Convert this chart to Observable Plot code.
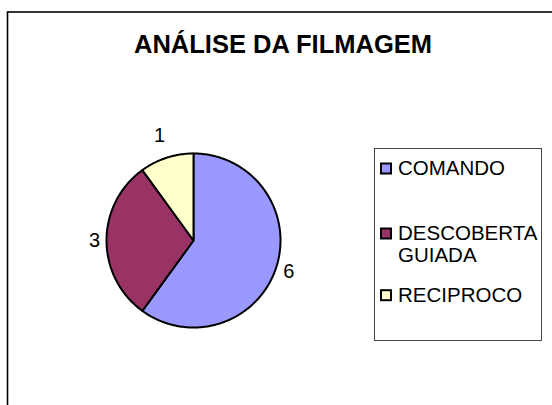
<!DOCTYPE html>
<html><head><meta charset="utf-8">
<script src="https://cdn.jsdelivr.net/npm/d3@7"></script>
<script src="https://cdn.jsdelivr.net/npm/@observablehq/plot@0.6"></script>
<style>
body{margin:0;background:#fff;}
#wrap{position:relative;width:552px;height:405px;overflow:hidden;font-family:"Liberation Sans",Arial,sans-serif;background:#fff;}
#wrap svg{position:absolute;left:0;top:0;}
</style>
</head><body>
<div id="wrap"></div>
<script>
const title = "ANÁLISE DA FILMAGEM";
const categories = ["COMANDO", "DESCOBERTA GUIADA", "RECIPROCO"];
const values = [6, 3, 1];
const colors = ["#9999FF", "#993366", "#FFFFCC"];

// layout
const cx = 193, cy = 240, r = 87;
const total = d3.sum(values);

// slice polygons in unit-circle coordinates (clockwise from 12 o'clock)
const pts = [];
const labels = [];
let acc = 0;
values.forEach((v, i) => {
  const a0 = acc / total * 2 * Math.PI;
  acc += v;
  const a1 = acc / total * 2 * Math.PI;
  const cat = categories[i];
  pts.push({cat, x: 0, y: 0});
  const n = Math.max(2, Math.ceil((a1 - a0) / (Math.PI / 180)));
  for (let k = 0; k <= n; k++) {
    const a = a0 + (a1 - a0) * k / n;
    pts.push({cat, x: Math.sin(a), y: Math.cos(a)});
  }
  pts.push({cat, x: 0, y: 0});
  const m = (a0 + a1) / 2;
  const c = Math.cos(m);
  const rl = 1 + (12 + 12 * c * c) / r;
  labels.push({label: String(v), x: Math.sin(m) * rl, y: Math.cos(m) * rl});
});

const chart = Plot.plot({
  width: 552, height: 405,
  marginTop: 0, marginRight: 0, marginBottom: 0, marginLeft: 0,
  x: {domain: [-1, 1], range: [cx - r, cx + r], axis: null},
  y: {domain: [-1, 1], range: [cy + r, cy - r], axis: null},
  color: {domain: categories, range: colors},
  style: {fontFamily: '"Liberation Sans", Arial, sans-serif', background: "transparent"},
  marks: [
    Plot.line(pts, {x: "x", y: "y", z: "cat", fill: "cat", stroke: "#000", strokeWidth: 2, strokeLinejoin: "round"}),
    Plot.text(labels, {x: "x", y: "y", text: "label", fontSize: 20, fill: "#000", textAnchor: "middle", lineAnchor: "middle"})
  ]
});
const wrap = document.getElementById("wrap");
wrap.appendChild(chart);

// overlay: frame, title, legend
const ov = d3.select(wrap).append("svg")
  .attr("width", 552).attr("height", 405)
  .style("font-family", '"Liberation Sans", Arial, sans-serif');

ov.append("rect").attr("x", 7.5).attr("y", 12).attr("width", 700).attr("height", 600)
  .attr("fill", "none").attr("stroke", "#000").attr("stroke-width", 1.6);

ov.append("text").attr("x", 283).attr("y", 53).attr("text-anchor", "middle")
  .attr("font-size", 25.5).attr("font-weight", "bold").attr("fill", "#000").text(title);

ov.append("rect").attr("x", 374.5).attr("y", 148.5).attr("width", 167).attr("height", 192)
  .attr("fill", "#fff").attr("stroke", "#444").attr("stroke-width", 1);

const legendBaselines = [175, 240, 301.7];
const lineStep = 21.7;
categories.forEach((c, i) => {
  const b = legendBaselines[i];
  ov.append("rect").attr("x", 381).attr("y", b - 11.5).attr("width", 10).attr("height", 10)
    .attr("fill", colors[i]).attr("stroke", "#000").attr("stroke-width", 2);
  c.split(" ").forEach((w, j) => {
    ov.append("text").attr("x", 398).attr("y", b + j * lineStep)
      .attr("font-size", 20.5).attr("fill", "#000").text(w);
  });
});
</script>
</body></html>
